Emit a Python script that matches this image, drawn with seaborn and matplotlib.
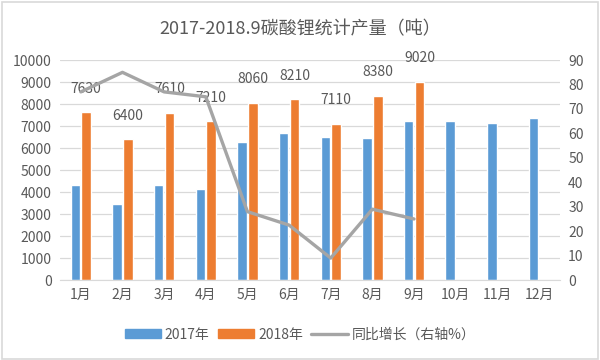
import numpy as np
import pandas as pd
import matplotlib
matplotlib.use("Agg")
import matplotlib.pyplot as plt
from matplotlib.patches import Patch, Rectangle
from matplotlib.lines import Line2D
import seaborn as sns

months = ["1月", "2月", "3月", "4月", "5月", "6月", "7月", "8月", "9月", "10月", "11月", "12月"]
prod_2017 = [4300, 3450, 4300, 4130, 6300, 6700, 6520, 6470, 7210, 7210, 7150, 7380]
prod_2018 = [7630, 6400, 7610, 7210, 8060, 8210, 7110, 8380, 9020]
growth = [77, 85, 77, 75, 28, 22.5, 9, 29, 25]

left_ticks = list(range(0, 10001, 1000))
right_ticks = list(range(0, 91, 10))

blue = "#5B9BD5"
orange = "#ED7D31"
gray = "#A5A5A5"
text_c = "#595959"

sns.set_style("white")
plt.rcParams["font.family"] = ["Noto Sans CJK SC", "DejaVu Sans"]

df = pd.DataFrame({
    "month": months * 2,
    "year": ["2017年"] * 12 + ["2018年"] * 12,
    "value": prod_2017 + prod_2018 + [np.nan] * (12 - len(prod_2018)),
})

fig = plt.figure(figsize=(6, 3.6), dpi=100)
fig.patches.append(Rectangle((0.003, 0.004), 0.994, 0.99, transform=fig.transFigure,
                             fill=False, edgecolor="#D9D9D9", linewidth=1.2))
ax = fig.add_axes([0.1, 0.222, 0.833, 0.611])

sns.barplot(data=df, x="month", y="value", hue="year", order=months,
            palette=[blue, orange], width=0.52, gap=0.12, ax=ax,
            legend=False, saturation=1)

for cont in ax.containers[1:]:
    ax.bar_label(cont, fmt="%d", padding=12, fontsize=10, color=text_c)

ax.set_ylim(0, 10000)
ax.set_yticks(left_ticks)
ax.set_xlim(-0.5, 11.5)
ax.set_xlabel("")
ax.set_ylabel("")
ax.grid(axis="y", color="#D9D9D9", linewidth=0.9)
ax.set_axisbelow(True)
ax.tick_params(axis="both", length=0, labelsize=10, labelcolor=text_c, pad=6)
for s in ax.spines.values():
    s.set_visible(False)
ax.spines["bottom"].set_visible(True)
ax.spines["bottom"].set_color("#D9D9D9")

ax2 = ax.twinx()
sns.lineplot(x=np.arange(len(growth)), y=growth, ax=ax2, color=gray, linewidth=2.4)
ax2.set_ylim(0, 90)
ax2.set_yticks(right_ticks)
ax2.set_ylabel("")
ax2.tick_params(axis="y", length=0, labelsize=10, labelcolor=text_c, pad=6)
for s in ax2.spines.values():
    s.set_visible(False)

fig.suptitle("2017-2018.9碳酸锂统计产量（吨）", y=0.945, fontsize=13, color=text_c)

handles = [Patch(color=blue), Patch(color=orange), Line2D([0], [0], color=gray, linewidth=2.4)]
labels = ["2017年", "2018年", "同比增长（右轴%）"]
fig.legend(handles, labels, loc="center", bbox_to_anchor=(0.5, 0.07), ncol=3, frameon=False,
           fontsize=10, labelcolor=text_c, handlelength=2.6, handleheight=0.6,
           handletextpad=0.3, columnspacing=0.6)

fig.savefig("out.png", dpi=100)
